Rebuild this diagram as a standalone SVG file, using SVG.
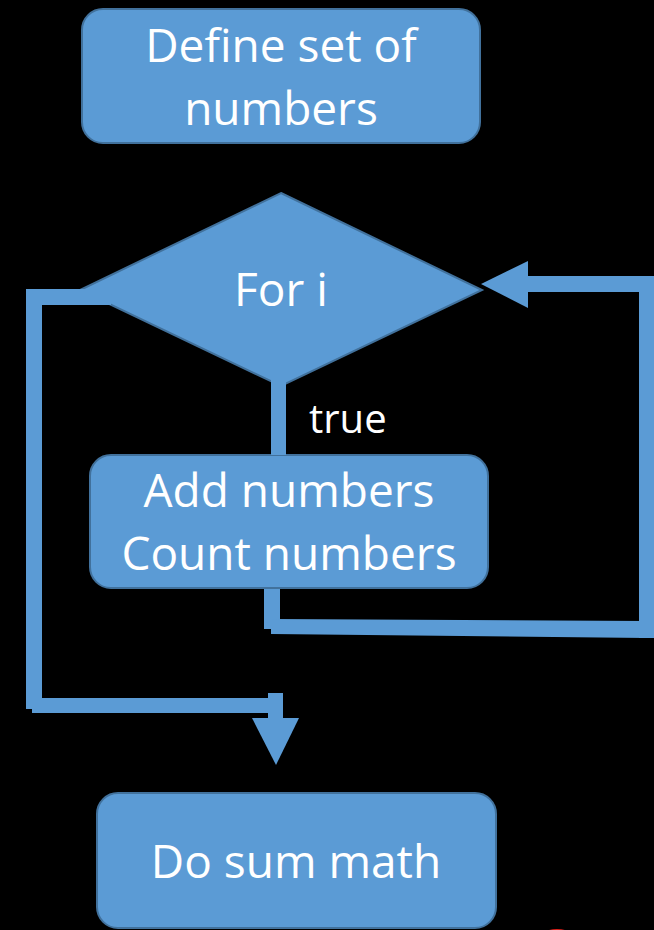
<svg xmlns="http://www.w3.org/2000/svg" width="654" height="930" viewBox="0 0 654 930">
  <style>
    .node { fill: #5b9bd5; stroke: #41719c; stroke-width: 2; }
    .wire { fill: #5b9bd5; stroke: none; }
    .label { font-family: "Open Sans", "Liberation Sans", sans-serif; font-size: 46px; fill: #ffffff; text-anchor: middle; }
    .small { font-size: 40px; text-anchor: start; }
  </style>
  <rect x="0" y="0" width="654" height="930" fill="#000000"/>

  <g id="define">
    <rect class="node" x="82" y="9" width="398" height="134" rx="21"/>
    <text class="label" x="281" y="62">Define set of</text>
    <text class="label" x="281" y="125">numbers</text>
  </g>

  <g id="for-i">
    <polygon class="node" points="281,193 482,290 281,386 80,290"/>
    <text class="label" x="281" y="306">For i</text>
  </g>

  <text class="label small" x="309" y="433">true</text>

  <g id="body">
    <rect class="node" x="90" y="455" width="398" height="133" rx="21"/>
    <text class="label" x="289" y="507">Add numbers</text>
    <text class="label" x="289" y="570">Count numbers</text>
  </g>

  <g id="sum">
    <rect class="node" x="97" y="793" width="399" height="135" rx="21"/>
    <text class="label" x="296" y="878">Do sum math</text>
  </g>

  <!-- connectors, drawn over the node outlines where they join -->
  <g id="connectors">
    <!-- loop exit: left side down to the final step -->
    <rect class="wire" x="26" y="289" width="85" height="16"/>
    <rect class="wire" x="26" y="289" width="16" height="420"/>
    <rect class="wire" x="32" y="698" width="251" height="15"/>
    <rect class="wire" x="268" y="693" width="15" height="25"/>
    <polygon class="wire" points="252,718 299,718 276,765"/>

    <!-- true branch: decision to loop body -->
    <rect class="wire" x="271" y="380" width="15" height="75"/>

    <!-- loop back: body to decision -->
    <rect class="wire" x="264" y="589" width="16" height="40"/>
    <polygon class="wire" points="271,619 647,621 647,638 271,634"/>
    <rect class="wire" x="639" y="286" width="15" height="352"/>
    <rect class="wire" x="647" y="276" width="7" height="14"/>
    <rect class="wire" x="526" y="276" width="121" height="16"/>
    <polygon class="wire" points="528,261 528,308 481,284"/>
  </g>

  <ellipse cx="557" cy="932" rx="11" ry="3" fill="#e0201a"/>
</svg>
